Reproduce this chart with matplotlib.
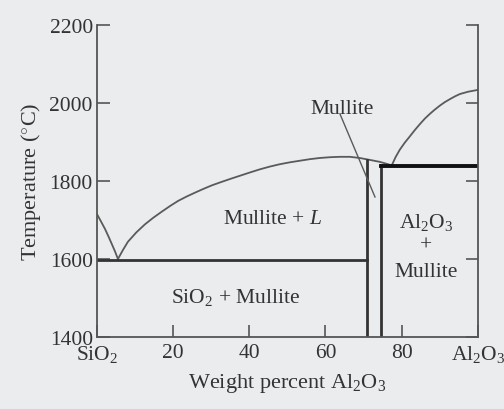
import numpy as np
import matplotlib.pyplot as plt

plt.rcParams['font.family'] = ['Liberation Serif', 'DejaVu Serif']
plt.rcParams['mathtext.fontset'] = 'custom'
plt.rcParams['mathtext.rm'] = 'Liberation Serif'
plt.rcParams['mathtext.it'] = 'Liberation Serif:italic'

# liquidus on SiO2 side (wt% Al2O3, T in C)
sio2_liq_x = [0, 1.0, 2.1, 3.0, 3.9, 4.7, 5.5]
sio2_liq_t = [1715, 1697, 1677, 1658, 1638, 1620, 1600]

# mullite liquidus from eutectic, over the mullite field
mul_liq_x = [5.5, 6.8, 8.1, 10.3, 12.6, 14.8, 17.1, 19.2, 21.3, 23.5, 25.7, 28.0, 30.2,
             32.8, 35.2, 37.7, 40.2, 42.8, 45.4, 48.0, 50.7, 53.3, 55.9, 58.5, 61.2,
             63.8, 66.4, 69.0, 71.7, 74.3, 76.1, 77.4]
mul_liq_t = [1600, 1623, 1644, 1668, 1689, 1706, 1722, 1736, 1749, 1760, 1770, 1780, 1789,
             1798, 1806, 1814, 1822, 1830, 1837, 1843, 1848, 1852, 1856, 1859, 1861,
             1862, 1862, 1859, 1854, 1849, 1844, 1840]

# liquidus on Al2O3 side
al_liq_x = [77.4, 78.4, 79.5, 80.8, 82.2, 83.5, 84.8, 86.1, 87.4, 88.7, 90.0, 91.3,
            92.7, 94.0, 95.3, 97.5, 99.7, 100]
al_liq_t = [1840, 1861, 1880, 1898, 1915, 1931, 1946, 1960, 1972, 1983, 1993, 2002,
            2010, 2017, 2023, 2029, 2033, 2034]

eutectic_t = 1598
eutectic_x = [0, 70.9]
mullite_left = 70.9
mullite_right = 74.5
mullite_left_top = 1855
mullite_right_top = 1840
al_line_t = 1838

xticks = [0, 20, 40, 60, 80, 100]
xticklabels = ['SiO$_2$', '20', '40', '60', '80', 'Al$_2$O$_3$']
yticks = [1400, 1600, 1800, 2000, 2200]

bg = '#ebeced'
fig = plt.figure(figsize=(5.04, 4.10), dpi=100, facecolor=bg)
ax = fig.add_axes([0.1925, 0.1756, 0.7555, 0.761])
ax.set_facecolor(bg)

line_c = '#5a5a5a'
ax.plot(sio2_liq_x, sio2_liq_t, color=line_c, lw=1.3)
ax.plot(mul_liq_x, mul_liq_t, color=line_c, lw=1.3)
ax.plot(al_liq_x, al_liq_t, color=line_c, lw=1.3)

ax.plot(eutectic_x, [eutectic_t, eutectic_t], color='#333333', lw=2.0)
ax.plot([mullite_left, mullite_left], [1400, mullite_left_top], color='#333333', lw=2.0)
ax.plot([mullite_right, mullite_right], [1400, mullite_right_top], color='#333333', lw=2.0)
ax.plot([mullite_right, 100], [al_line_t, al_line_t], color='#111111', lw=2.8)

# leader line for the mullite label
ax.plot([63.8, 73.0], [1972, 1759], color=line_c, lw=1.0)

fs = 15.5
tc = '#333333'
ax.text(64.3, 1985, 'Mullite', ha='center', va='center', fontsize=fs, color=tc)
ax.text(46, 1703, 'Mullite + $\\mathit{L}$', ha='center', va='center', fontsize=fs, color=tc)
ax.text(36.5, 1505, 'SiO$_2$ + Mullite', ha='center', va='center', fontsize=fs, color=tc)
ax.text(86.4, 1697, 'Al$_2$O$_3$', ha='center', va='center', fontsize=fs, color=tc)
ax.text(86.4, 1635, '+', ha='center', va='center', fontsize=fs, color=tc)
ax.text(86.4, 1567, 'Mullite', ha='center', va='center', fontsize=fs, color=tc)

ax.set_xlim(0, 100)
ax.set_ylim(1400, 2200)
ax.set_xticks(xticks)
ax.set_xticklabels(xticklabels)
ax.set_yticks(yticks)
ax.tick_params(direction='in', length=9, width=1.2, colors='#555555',
               labelcolor=tc, labelsize=fs, right=True)
ax.tick_params(axis='y', pad=3)
ax.tick_params(axis='x', pad=4)
ax.spines['top'].set_visible(False)
for s in ['left', 'right', 'bottom']:
    ax.spines[s].set_color('#555555')
    ax.spines[s].set_linewidth(1.3)

ax.set_xlabel('Weight percent Al$_2$O$_3$', fontsize=16, color=tc, labelpad=5)
ax.set_ylabel('Temperature ($^{\\circ}$C)', fontsize=16, color=tc, labelpad=5)

fig.savefig('out.png', dpi=100, facecolor=bg)
